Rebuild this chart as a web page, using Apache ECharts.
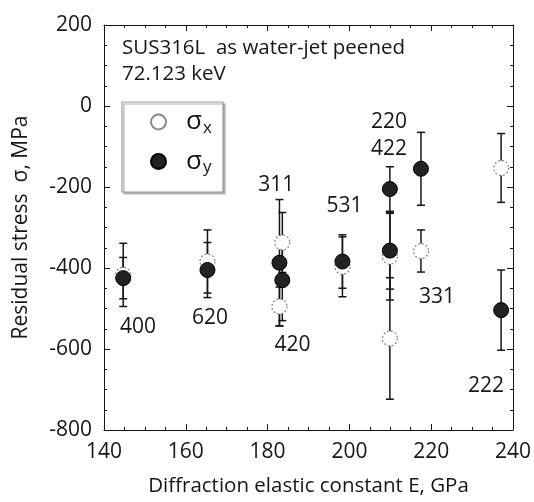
<!DOCTYPE html>
<html>
<head>
<meta charset="utf-8">
<script src="https://cdn.jsdelivr.net/npm/echarts@6/dist/echarts.min.js"></script>
<style>
  html, body { margin: 0; padding: 0; background: #fff; }
  #chart { width: 534px; height: 502px; }
</style>
</head>
<body>
<div id="chart"></div>
<script>
// Reflections (hkl) and their diffraction elastic constants, GPa
const reflections = ['400', '620', '311', '420', '531', '220', '422', '331', '222'];
const modulusE   = [144.7, 165.3, 182.9, 183.6, 198.3, 209.9, 209.9, 217.5, 237.1];

// Residual stress components, MPa, with their errors
const sigmaX = [-417, -384, -495, -337, -397, -372, -574, -358, -153];
const errX   = [78, 78, 48, 74, 74, 107, 150, 52, 85];
const sigmaY = [-425, -405, -387, -430, -384, -205, -357, -155, -504];
const errY   = [51, 68, 156, 100, 66, 55, 95, 90, 99];

// Anchor of each hkl label, in data units (E, sigma)
const labelE     = [148.3, 165.9, 182.1, 186.1, 198.8, 209.7, 209.7, 221.4, 233.4];
const labelSigma = [-546, -523, -195, -590, -247, -40, -106, -471, -691];

// Axis ranges
const xRange = [140, 240], xStep = 20;
const yRange = [-800, 200], yStep = 200;

const FONT = '"Open Sans", "Noto Sans", sans-serif';
const INK = '#161616';

function errorBars(values, errors, name) {
  return {
    type: 'custom',
    name: name + ' error',
    z: 2,
    silent: true,
    data: modulusE.map((e, i) => [e, values[i] - errors[i], values[i] + errors[i]]),
    encode: { x: 0, y: [1, 2] },
    renderItem(params, api) {
      const x = api.value(0);
      const lo = api.coord([x, api.value(1)]);
      const hi = api.coord([x, api.value(2)]);
      const w = 4;
      const st = { stroke: INK, lineWidth: 1.5 };
      return {
        type: 'group',
        children: [
          { type: 'line', shape: { x1: lo[0], y1: lo[1], x2: hi[0], y2: hi[1] }, style: st },
          { type: 'line', shape: { x1: lo[0] - w, y1: lo[1], x2: lo[0] + w, y2: lo[1] }, style: st },
          { type: 'line', shape: { x1: hi[0] - w, y1: hi[1], x2: hi[0] + w, y2: hi[1] }, style: st }
        ]
      };
    }
  };
}

function axisBase(range, step) {
  return {
    type: 'value',
    min: range[0], max: range[1], interval: step,
    axisLine: { show: true, onZero: false, lineStyle: { color: INK, width: 1 } },
    axisTick: { show: true, inside: true, length: 6, lineStyle: { color: INK } },
    minorTick: { show: true, splitNumber: 4, length: 3, lineStyle: { color: INK } },
    splitLine: { show: false },
    axisLabel: { show: true, color: INK, fontSize: 21, fontFamily: FONT },
  };
}

const chart = echarts.init(document.getElementById('chart'), null, { renderer: 'canvas' });

const option = {
  backgroundColor: '#fff',
  animation: false,
  grid: { left: 104, right: 21, top: 25, bottom: 72, containLabel: false },
  xAxis: [
    Object.assign(axisBase(xRange, xStep), {
      position: 'bottom',
      name: 'Diffraction elastic constant E, GPa',
      nameLocation: 'middle',
      nameGap: 46,
      nameTextStyle: { color: INK, fontSize: 20.5, fontFamily: FONT },
      axisLabel: { show: true, color: INK, fontSize: 21, fontFamily: FONT, margin: 12 }
    }),
    Object.assign(axisBase(xRange, xStep), {
      position: 'top',
      axisLabel: { show: false }
    })
  ],
  yAxis: [
    Object.assign(axisBase(yRange, yStep), {
      position: 'left',
      name: 'Residual stress  σ, MPa',
      nameLocation: 'middle',
      nameGap: 72,
      nameTextStyle: { color: INK, fontSize: 21, fontFamily: FONT },
      axisLabel: { show: true, color: INK, fontSize: 21, fontFamily: FONT, margin: 12 }
    }),
    Object.assign(axisBase(yRange, yStep), {
      position: 'right',
      axisLabel: { show: false }
    })
  ],
  legend: {
    orient: 'vertical',
    left: 150,
    top: 109,
    padding: 0,
    itemGap: 12,
    itemWidth: 15,
    itemHeight: 15,
    z: 6,
    data: ['σx', 'σy'],
    formatter: n => '{s|σ}{b|' + n.slice(1) + '}',
    textStyle: {
      color: INK,
      fontFamily: FONT,
      rich: {
        s: { fontSize: 26, fontFamily: FONT, color: INK, padding: [0, 0, 0, 15] },
        b: { fontSize: 17, fontFamily: FONT, color: INK, verticalAlign: 'bottom', padding: [12, 0, 0, 1] }
      }
    }
  },
  graphic: [
    {
      type: 'rect', z: 5,
      shape: { x: 122, y: 102, width: 101, height: 90 },
      style: { fill: '#fff', stroke: '#9a9a9a', lineWidth: 1.2, shadowColor: '#b0b0b0', shadowOffsetX: 2, shadowOffsetY: 2, shadowBlur: 0 }
    },
    {
      type: 'text', z: 5, left: 122, top: 38,
      style: { text: 'SUS316L  as water-jet peened', fill: INK, font: '20.5px ' + FONT }
    },
    {
      type: 'text', z: 5, left: 122, top: 64,
      style: { text: '72.123 keV', fill: INK, font: '20.5px ' + FONT }
    }
  ],
  series: [
    errorBars(sigmaX, errX, 'σx'),
    errorBars(sigmaY, errY, 'σy'),
    {
      type: 'scatter', name: 'σx', z: 3,
      symbol: 'circle', symbolSize: 15,
      itemStyle: { color: '#fff', borderColor: '#8a8a8a', borderWidth: 1.3, borderType: [2, 2], opacity: 1 },
      data: modulusE.map((e, i) => [e, sigmaX[i]])
    },
    {
      type: 'scatter', name: 'σy', z: 4,
      symbol: 'circle', symbolSize: 15,
      itemStyle: { color: '#222', borderColor: '#000', borderWidth: 1, opacity: 1 },
      data: modulusE.map((e, i) => [e, sigmaY[i]])
    },
    {
      type: 'scatter', name: 'hkl', z: 4, silent: true,
      symbolSize: 1,
      itemStyle: { color: 'rgba(0,0,0,0)', opacity: 1 },
      label: {
        show: true, position: 'inside', formatter: p => p.name,
        color: INK, fontSize: 21, fontFamily: FONT,
        textBorderWidth: 0, textBorderColor: 'transparent'
      },
      data: reflections.map((r, i) => ({ name: r, value: [labelE[i], labelSigma[i]] }))
    }
  ]
};

chart.setOption(option);
</script>
</body>
</html>
